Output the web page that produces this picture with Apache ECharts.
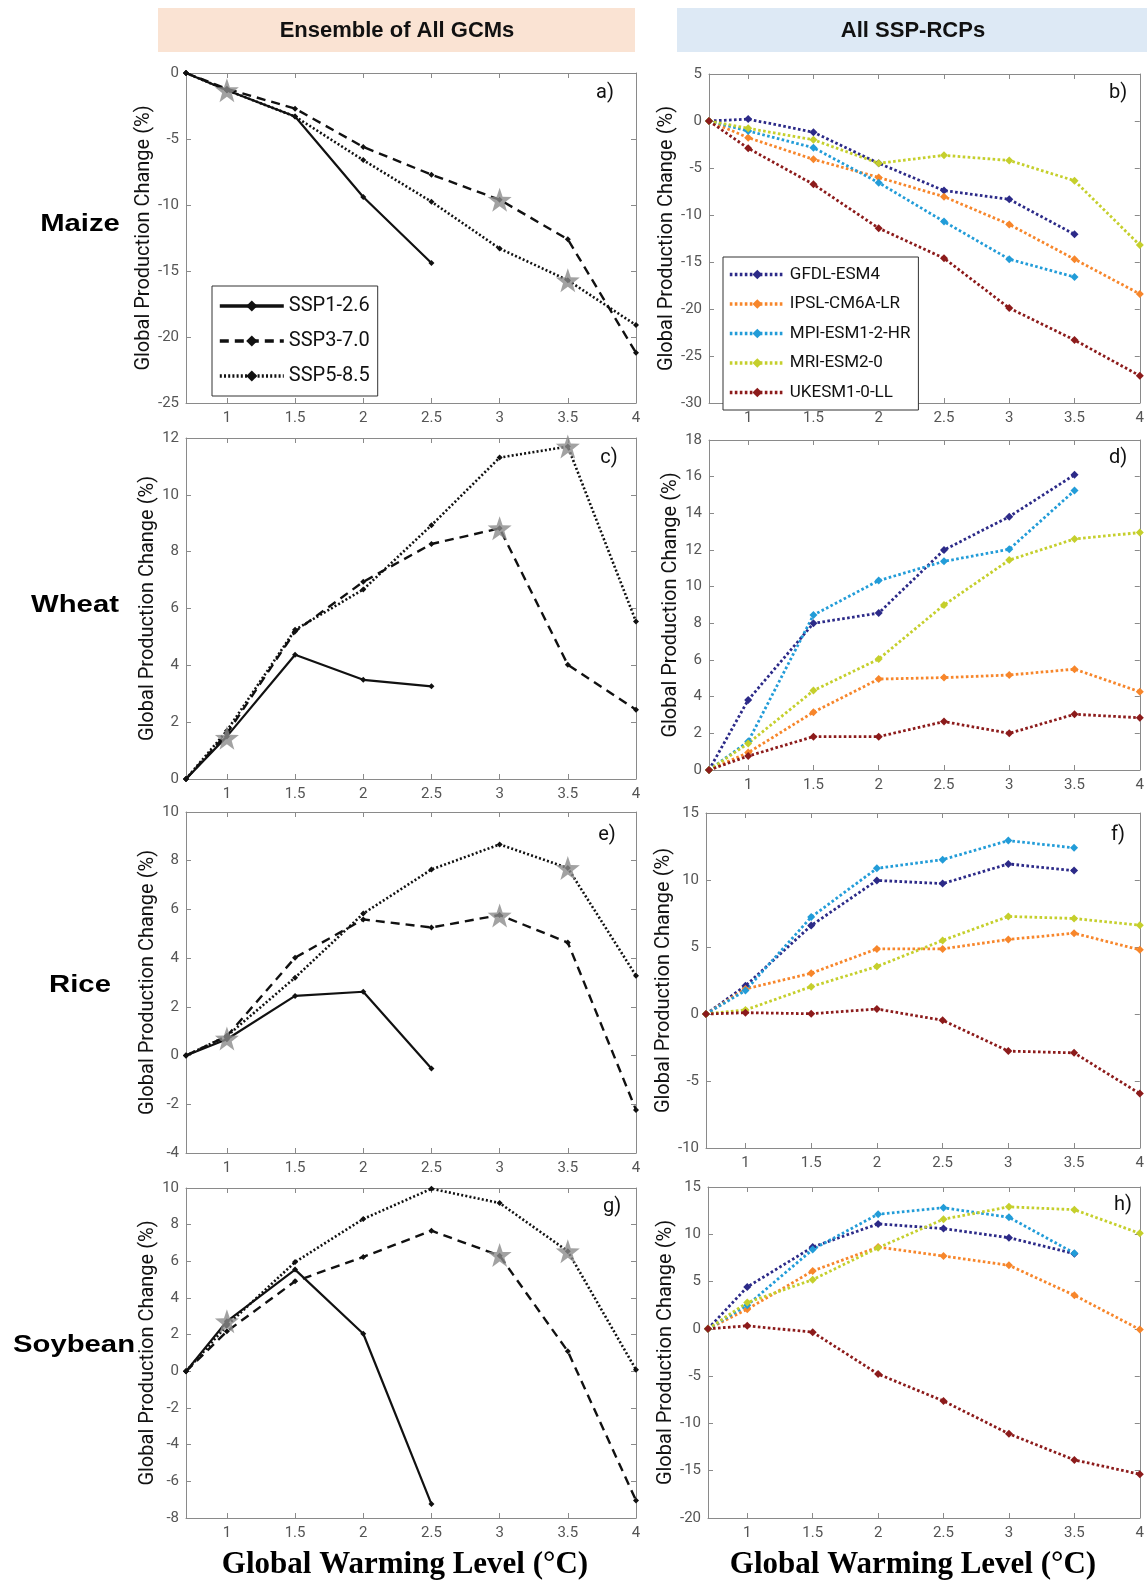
<!DOCTYPE html>
<html>
<head>
<meta charset="utf-8">
<title>Global production change by warming level</title>
<script src="https://cdn.jsdelivr.net/npm/echarts@6/dist/echarts.min.js"></script>
<style>
  html, body { margin: 0; padding: 0; background: #fff; }
  #chart { width: 1147px; height: 1581px; }
</style>
</head>
<body>
<div id="chart"></div>
<script>
// Global warming levels (°C) and tick labels
const gwl = [0.7, 1, 1.5, 2, 2.5, 3, 3.5, 4];
const xTicks = [1, 1.5, 2, 2.5, 3, 3.5, 4];

// Left column: ensemble of all GCMs
const maizeSSP126 = [0, -1.3, -3.3, -9.4, -14.4];
const maizeSSP370 = [0, -1.2, -2.7, -5.6, -7.7, -9.6, -12.6, -21.2];
const maizeSSP585 = [0, -1.3, -3.3, -6.6, -9.75, -13.3, -15.7, -19.1];
const maizeStars = [[1, -1.3], [3, -9.6], [3.5, -15.7]];

const wheatSSP126 = [0, 1.5, 4.37, 3.49, 3.26];
const wheatSSP370 = [0, 1.6, 5.19, 6.94, 8.27, 8.82, 4.02, 2.44];
const wheatSSP585 = [0, 1.7, 5.25, 6.67, 8.93, 11.31, 11.7, 5.54];
const wheatStars = [[1, 1.45], [3, 8.82], [3.5, 11.7]];

const riceSSP126 = [0, 0.67, 2.45, 2.62, -0.53];
const riceSSP370 = [0, 0.8, 4.02, 5.59, 5.26, 5.77, 4.64, -2.23];
const riceSSP585 = [0, 0.8, 3.2, 5.83, 7.64, 8.67, 7.7, 3.28];
const riceStars = [[1, 0.7], [3, 5.75], [3.5, 7.7]];

const soySSP126 = [0, 2.73, 5.55, 2.05, -7.24];
const soySSP370 = [0, 2.18, 4.91, 6.24, 7.67, 6.31, 1.09, -7.04];
const soySSP585 = [0, 2.5, 5.96, 8.31, 9.96, 9.18, 6.55, 0.09];
const soyStars = [[1, 2.73], [3, 6.35], [3.5, 6.55]];

// Right column: individual GCMs, all SSP-RCPs
const gcmNames = ['GFDL-ESM4', 'IPSL-CM6A-LR', 'MPI-ESM1-2-HR', 'MRI-ESM2-0', 'UKESM1-0-LL'];
const gcmColors = ['#2c2a88', '#f7862b', '#229cd8', '#c5cf2c', '#8c1b1b'];

const maizeGFDL = [0, 0.2, -1.2, -4.5, -7.4, -8.33, -12.06];
const maizeIPSL = [0, -1.77, -4.08, -6.0, -8.05, -11.0, -14.7, -18.4];
const maizeMPI = [0, -1.06, -2.84, -6.56, -10.7, -14.7, -16.6];
const maizeMRI = [0, -0.78, -2.0, -4.5, -3.65, -4.2, -6.35, -13.2];
const maizeUKESM = [0, -2.9, -6.74, -11.4, -14.6, -19.9, -23.3, -27.1];

const wheatGFDL = [0, 3.82, 8.0, 8.56, 12.0, 13.82, 16.1];
const wheatIPSL = [0, 0.95, 3.15, 4.96, 5.04, 5.18, 5.5, 4.27];
const wheatMPI = [0, 1.55, 8.45, 10.33, 11.38, 12.04, 15.24];
const wheatMRI = [0, 1.45, 4.33, 6.05, 9.0, 11.45, 12.6, 12.95];
const wheatUKESM = [0, 0.76, 1.82, 1.82, 2.64, 2.0, 3.04, 2.85];

const riceGFDL = [0, 2.1, 6.6, 9.97, 9.73, 11.2, 10.7];
const riceIPSL = [0, 1.87, 3.04, 4.86, 4.86, 5.56, 6.03, 4.79];
const riceMPI = [0, 1.75, 7.23, 10.87, 11.52, 12.94, 12.4];
const riceMRI = [0, 0.3, 2.04, 3.54, 5.49, 7.28, 7.13, 6.63];
const riceUKESM = [0, 0.1, 0.02, 0.37, -0.47, -2.77, -2.9, -5.94];

const soyGFDL = [0, 4.43, 8.65, 11.1, 10.6, 9.64, 7.95];
const soyIPSL = [0, 2.08, 6.12, 8.65, 7.7, 6.72, 3.55, -0.07];
const soyMPI = [0, 2.5, 8.4, 12.13, 12.8, 11.8, 8.0];
const soyMRI = [0, 2.78, 5.2, 8.58, 11.6, 12.9, 12.6, 10.1];
const soyUKESM = [0, 0.32, -0.35, -4.78, -7.63, -11.1, -13.86, -15.37];

// Y axis ranges [min, max, interval] for panels a..h
const yRanges = [[-25, 0, 5], [-30, 5, 5], [0, 12, 2], [0, 18, 2],
                 [-4, 10, 2], [-10, 15, 5], [-8, 10, 2], [-20, 15, 5]];

const ensembleRows = [
    [maizeSSP126, maizeSSP370, maizeSSP585, maizeStars],
    [wheatSSP126, wheatSSP370, wheatSSP585, wheatStars],
    [riceSSP126, riceSSP370, riceSSP585, riceStars],
    [soySSP126, soySSP370, soySSP585, soyStars]
];
const gcmRows = [
    [maizeGFDL, maizeIPSL, maizeMPI, maizeMRI, maizeUKESM],
    [wheatGFDL, wheatIPSL, wheatMPI, wheatMRI, wheatUKESM],
    [riceGFDL, riceIPSL, riceMPI, riceMRI, riceUKESM],
    [soyGFDL, soyIPSL, soyMPI, soyMRI, soyUKESM]
];

(function () {
    'use strict';

    const chart = echarts.init(document.getElementById('chart'));
    const FONT = 'Roboto, "Noto Sans", sans-serif';
    const AXIS_GREY = '#8a8a8a';
    const LABEL_GREY = '#555';

    // plot boxes, in reading order a..h
    const boxes = [
        { left: 186, top: 73, width: 450, height: 330 },
        { left: 709, top: 74, width: 437, height: 329 },
        { left: 186, top: 438, width: 450, height: 341 },
        { left: 709, top: 440, width: 437, height: 330 },
        { left: 186, top: 812, width: 450, height: 341 },
        { left: 706, top: 813, width: 440, height: 335 },
        { left: 186, top: 1188, width: 450, height: 330 },
        { left: 708, top: 1187, width: 438, height: 331 }
    ];

    const toPoints = (values) => values.map((v, i) => [gwl[i], v]);

    const grid = [];
    const xAxis = [];
    const yAxis = [];
    const series = [];

    boxes.forEach((b, i) => {
        grid.push(b);
        const [ymin, ymax, step] = yRanges[i];
        const isLeft = i % 2 === 0;

        const tickStyle = { show: true, inside: true, length: 5, lineStyle: { color: AXIS_GREY } };
        const lineStyle = { show: true, onZero: false, lineStyle: { color: AXIS_GREY, width: 1 } };

        xAxis.push({
            gridIndex: i, type: 'value', min: 0.7, max: 4, position: 'bottom',
            axisLine: lineStyle,
            axisTick: Object.assign({ customValues: xTicks }, tickStyle),
            axisLabel: { customValues: xTicks, color: LABEL_GREY, fontSize: 15, fontFamily: FONT, margin: 8 },
            splitLine: { show: false }
        });
        xAxis.push({
            gridIndex: i, type: 'value', min: 0.7, max: 4, position: 'top',
            axisLine: lineStyle,
            axisTick: Object.assign({ customValues: xTicks }, tickStyle),
            axisLabel: { show: false },
            splitLine: { show: false }
        });
        yAxis.push({
            gridIndex: i, type: 'value', min: ymin, max: ymax, interval: step, position: 'left',
            name: 'Global Production Change (%)', nameLocation: 'middle',
            nameGap: isLeft ? 26 : 26,
            nameTextStyle: { color: '#111', fontSize: 20, fontFamily: FONT },
            axisLine: lineStyle,
            axisTick: tickStyle,
            axisLabel: { color: LABEL_GREY, fontSize: 15, fontFamily: FONT, margin: 7 },
            splitLine: { show: false }
        });
        yAxis.push({
            gridIndex: i, type: 'value', min: ymin, max: ymax, interval: step, position: 'right',
            axisLine: lineStyle,
            axisTick: tickStyle,
            axisLabel: { show: false },
            splitLine: { show: false }
        });
    });

    // left column: black lines + grey stars
    const ssp = [
        { name: 'SSP1-2.6', type: 'solid', width: 2.2 },
        { name: 'SSP3-7.0', type: [9, 6], width: 2.4 },
        { name: 'SSP5-8.5', type: [2, 2.2], width: 2.6 }
    ];
    const starPath = 'path://M0,-10L2.35,-3.24L9.51,-3.09L3.8,1.24L5.88,8.09L0,4L-5.88,8.09L-3.8,1.24L-9.51,-3.09L-2.35,-3.24Z';

    ensembleRows.forEach((row, r) => {
        const g = r * 2;
        ssp.forEach((s, k) => {
            series.push({
                name: s.name, type: 'line', xAxisIndex: g * 2, yAxisIndex: g * 2,
                data: toPoints(row[k]),
                symbol: 'diamond', symbolSize: 6, showAllSymbol: true,
                lineStyle: { color: '#111', width: s.width, type: s.type },
                itemStyle: { color: '#111' },
                animation: false, z: 3
            });
        });
        series.push({
            name: 'Star', type: 'scatter', xAxisIndex: g * 2, yAxisIndex: g * 2,
            data: row[3], symbol: starPath, symbolSize: 24,
            itemStyle: { color: '#8b8b8b' }, animation: false, z: 5
        });
    });

    // right column: coloured dotted lines per GCM
    gcmRows.forEach((row, r) => {
        const g = r * 2 + 1;
        row.forEach((vals, k) => {
            series.push({
                name: gcmNames[k], type: 'line', xAxisIndex: g * 2, yAxisIndex: g * 2,
                data: toPoints(vals),
                symbol: 'diamond', symbolSize: 8, showAllSymbol: true,
                lineStyle: { color: gcmColors[k], width: 2.8, type: [2.6, 2.4] },
                itemStyle: { color: gcmColors[k] },
                animation: false, z: 3
            });
        });
    });

    const legendText = (size) => ({ color: '#111', fontSize: size, fontFamily: FONT });

    const legend = [
        {
            data: ssp.map(s => s.name), orient: 'vertical', left: 212, top: 286,
            itemWidth: 64, itemHeight: 14, itemGap: 15, padding: [10, 8, 10, 6],
            borderColor: '#333', borderWidth: 1, backgroundColor: '#fff',
            lineStyle: { width: 3.6 },
            textStyle: legendText(20), selectedMode: false
        },
        {
            data: gcmNames, orient: 'vertical', left: 723, top: 257,
            itemWidth: 55, itemHeight: 12, itemGap: 12.5, padding: [9, 8, 9, 5],
            borderColor: '#333', borderWidth: 1, backgroundColor: '#fff',
            lineStyle: { width: 3.6 },
            textStyle: legendText(17), selectedMode: false
        }
    ];

    // headers, crop names, panel letters, x titles
    const headFont = 'bold 22px "Liberation Sans", Arial, sans-serif';
    const graphic = [
        { type: 'rect', shape: { x: 158, y: 8, width: 477, height: 44 }, style: { fill: '#fae3d3' } },
        { type: 'rect', shape: { x: 677, y: 8, width: 470, height: 44 }, style: { fill: '#dde9f5' } },
        { type: 'text', x: 397, y: 31, style: { text: 'Ensemble of All GCMs', font: headFont, fill: '#111', align: 'center', verticalAlign: 'middle' } },
        { type: 'text', x: 913, y: 31, style: { text: 'All SSP-RCPs', font: headFont, fill: '#111', align: 'center', verticalAlign: 'middle' } }
    ];

    const crops = [['Maize', 80, 224], ['Wheat', 75, 605], ['Rice', 80, 985], ['Soybean', 74, 1345]];
    crops.forEach(([t, x, y]) => {
        graphic.push({
            type: 'text', x: x, y: y, scaleX: 1.22,
            style: { text: t, font: 'bold 24px "Liberation Sans", Arial, sans-serif', fill: '#000', align: 'center', verticalAlign: 'middle' }
        });
    });

    const letters = [['a)', 605, 93], ['b)', 1118, 93], ['c)', 609, 458], ['d)', 1118, 458],
                     ['e)', 607, 835], ['f)', 1118, 835], ['g)', 612, 1207], ['h)', 1123, 1205]];
    letters.forEach(([t, x, y]) => {
        graphic.push({
            type: 'text', x: x, y: y,
            style: { text: t, font: '20px Roboto, sans-serif', fill: '#111', align: 'center', verticalAlign: 'middle' }
        });
    });

    [405, 913].forEach(x => {
        graphic.push({
            type: 'text', x: x, y: 1565,
            style: { text: 'Global Warming Level (°C)', font: 'bold 31px "Liberation Serif", "Times New Roman", serif', fill: '#000', align: 'center', verticalAlign: 'middle' }
        });
    });

    chart.setOption({
        backgroundColor: '#fff',
        animation: false,
        grid: grid,
        xAxis: xAxis,
        yAxis: yAxis,
        legend: legend,
        series: series,
        graphic: graphic
    });
})();
</script>
</body>
</html>
